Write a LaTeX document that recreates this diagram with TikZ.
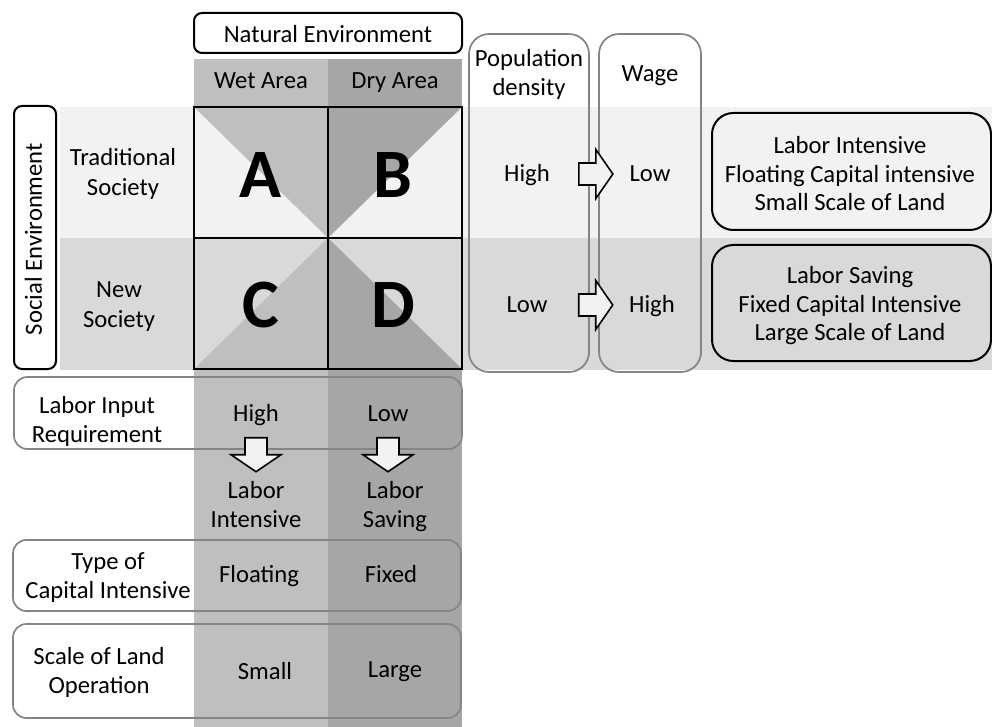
\documentclass[tikz,border=0pt]{standalone}
\usepackage{fontspec}
\setmainfont{Carlito}
\usetikzlibrary{calc}
\definecolor{rowtrad}{HTML}{F2F2F2}
\definecolor{rownew}{HTML}{D9D9D9}
\definecolor{colwet}{HTML}{BFBFBF}
\definecolor{coldry}{HTML}{A6A6A6}
\definecolor{framegrey}{HTML}{858585}

\begin{document}
\begin{tikzpicture}[x=0.75pt,y=-0.75pt,
		every node/.style={font=\fontsize{18.5}{22}\selectfont,align=center,inner sep=0pt,text depth=0pt},
		capline/.style={text height=11.9pt},
		blackbox/.style={draw=black,line width=1.5pt,rounded corners=6pt},
		greybox/.style={draw=framegrey,line width=1.3pt,rounded corners=10pt},
		letter/.style={font=\fontsize{52}{52}\selectfont\bfseries,text height=33.5pt},
		blockarrow/.style={draw=black,line width=1.2pt,fill=rowtrad,line join=miter},
		rarr/.pic={\path[blockarrow] (-17,-11) -- (0,-11) -- (0,-24.5) -- (17,0) -- (0,24.5) -- (0,11) -- (-17,11) -- cycle;},
		darr/.pic={\path[blockarrow] (-11,-17) -- (-11,0) -- (-25,0) -- (0,17) -- (25,0) -- (11,0) -- (11,-17) -- cycle;}]
				\useasboundingbox (0,0) rectangle (992,727);
				\clip (0,0) rectangle (992,727);
				\def\gl{194};
				\def\gm{328};
				\def\gr{462};
				\def\gt{107};
				\def\gc{238};
				\def\gb{369};
				% row bands and area columns
				\fill[rowtrad] (60,\gt) rectangle (992,\gc);
				\fill[rownew] (60,\gc) rectangle (992,370);
				\fill[colwet] (\gl,59) rectangle (\gm,727);
				\fill[coldry] (\gm,59) rectangle (\gr,727);
				% the four cells, split along a diagonal
				\fill[rowtrad] (\gl,\gt) rectangle (\gr,\gc);
				\fill[rownew] (\gl,\gc) rectangle (\gr,\gb);
				\fill[colwet] (\gl,\gt) -- (\gm,\gt) -- (\gm,\gc) -- cycle;
				\fill[coldry] (\gm,\gt) -- (\gr,\gt) -- (\gm,\gc) -- cycle;
				\fill[colwet] (\gm,\gc) -- (\gm,\gb) -- (\gl,\gb) -- cycle;
				\fill[coldry] (\gm,\gc) -- (\gm,\gb) -- (\gr,\gb) -- cycle;
				\draw[line width=1.6pt] (\gl,\gt) rectangle (\gr,\gb)
				(\gm,\gt) -- (\gm,\gb) (\gl,\gc) -- (\gr,\gc);
				\node[letter] (A) at (261,175) {A};
				\node[letter] (B) at (393,175) {B};
				\node[letter] (C) at (261,305) {C};
				\node[letter] (D) at (393,305) {D};
				% frames
				\draw[blackbox,fill=white] (\gl,13) rectangle (\gr,53);
				\draw[blackbox,fill=white] (14,106) rectangle (56,369);
				\draw[greybox,rounded corners=15pt] (469,34) rectangle (589,372);
				\draw[greybox,rounded corners=15pt] (599,34) rectangle (701,372);
				\draw[blackbox,rounded corners=16pt] (712,113) rectangle (991,230);
				\draw[blackbox,rounded corners=16pt] (712,245) rectangle (991,361);
				\draw[greybox] (14,377) rectangle (462,449);
				\draw[greybox] (13,540) rectangle (461,611);
				\draw[greybox] (13,624) rectangle (461,718);
				% labels
				\node[capline] (natenv) at (328,35) {Natural Environment};
				\node[capline] (wet) at (261,81) {Wet Area};
				\node[capline] (dry) at (395,81) {Dry Area};
				\node[capline,rotate=90] (socenv) at (34,239) {Social Environment};
				\node (trad) at (123,172) {Traditional\\Society};
				\node (new) at (119,304.5) {New\\Society};
				\node (popden) at (529,72.5) {Population\\density};
				\node[capline] (wage) at (650,73.5) {Wage};
				\node[capline] (pdhigh) at (527,174) {High};
				\node[capline] (wglow) at (650,174) {Low};
				\node[capline] (pdlow) at (527,305) {Low};
				\node[capline] (wghigh) at (652,305) {High};
				\node[font=\fontsize{18.5}{21.5}\selectfont] (tradsum) at (850,173.5) {Labor Intensive\\Floating Capital intensive\\Small Scale of Land};
				\node[font=\fontsize{18.5}{21.5}\selectfont] (newsum) at (850,303.5) {Labor Saving\\Fixed Capital Intensive\\Large Scale of Land};
				\node (lir) at (97,419.5) {Labor Input\\Requirement};
				\node[capline] (lirhigh) at (256,414) {High};
				\node[capline] (lirlow) at (388,414) {Low};
				\node (labint) at (256,504.5) {Labor\\Intensive};
				\node (labsav) at (395,504.5) {Labor\\Saving};
				\node (capital) at (108,575.5) {Type of\\Capital Intensive};
				\node[capline] (floating) at (259,574.5) {Floating};
				\node[capline] (fixed) at (391,574.5) {Fixed};
				\node (scale) at (99,670.5) {Scale of Land\\Operation};
				\node[capline] (small) at (265,672) {Small};
				\node[capline] (large) at (395,670) {Large};
				% block arrows
				\pic at ($(pdhigh)!0.56!(wglow)$) {rarr};
				\pic at ($(pdlow)!0.55!(wghigh)$) {rarr};
				\pic at ($(lirhigh)!0.45!(lirhigh|-labint)$) {darr};
				\pic at ($(lirlow)!0.45!(lirlow|-labsav)$) {darr};
			\end{tikzpicture}
\end{document}
